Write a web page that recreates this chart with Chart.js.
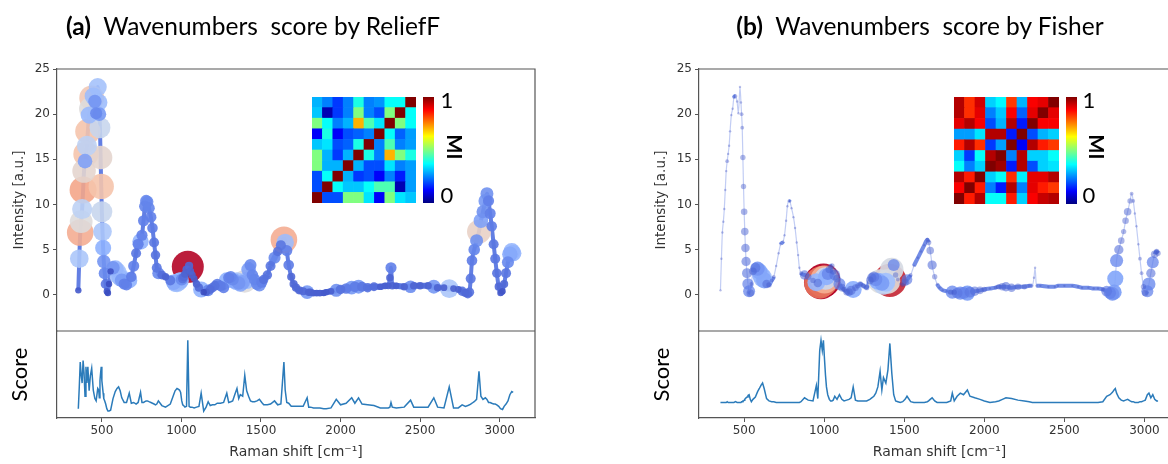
<!DOCTYPE html>
<html>
<head>
<meta charset="utf-8">
<script src="https://cdn.jsdelivr.net/npm/chart.js@4.4.0/dist/chart.umd.min.js"></script>
<style>
  html, body { margin: 0; padding: 0; background: #fff; overflow: hidden; }
  #wrap { position: relative; width: 1168px; height: 464px; overflow: hidden; }
  canvas { position: absolute; top: 0; }
  .title { position: absolute; top: 11px; transform: translateX(-50%); font-family: Lato, sans-serif;
           font-size: 24.5px; line-height: 1.2; color: #000; white-space: pre; }
  .title b { font-weight: 700; }
  .cbar { position: absolute; width: 11px;
          background: linear-gradient(to top, #000080 0%, #0000ff 12%, #00ffff 37%, #80ff80 50%, #ffff00 63%, #ff0000 88%, #800000 100%); }
  .lbl { position: absolute; transform: translate(-50%, -50%); font-family: Lato, sans-serif; font-size: 22px; color: #000; line-height: 1; }
  .mi { position: absolute; transform: translate(-50%, -50%) rotate(90deg); font-family: Lato, sans-serif; font-weight: 700; font-size: 20px; color: #000; line-height: 1; }
</style>
</head>
<body>
<div id="wrap">
  <canvas id="chartA" width="560" height="464" style="left:0px"></canvas>
  <canvas id="chartB" width="600" height="464" style="left:642px"></canvas>

  <canvas id="miA" width="104" height="106" style="left:312px; top:97px"></canvas>
  <div class="cbar" style="left:423px; top:97px; height:106px"></div>
  <div class="lbl" style="left:447px; top:100px">1</div>
  <div class="lbl" style="left:447px; top:195px">0</div>
  <div class="mi" style="left:455px; top:147px">MI</div>

  <canvas id="miB" width="105" height="107" style="left:954px; top:97px"></canvas>
  <div class="cbar" style="left:1066px; top:97px; height:107px"></div>
  <div class="lbl" style="left:1089px; top:100px">1</div>
  <div class="lbl" style="left:1089px; top:195px">0</div>
  <div class="mi" style="left:1097px; top:147px">MI</div>

  <div class="title" style="left:253px"><b>(a)</b>  Wavenumbers  score by ReliefF</div>
  <div class="title" style="left:920px"><b>(b)</b>  Wavenumbers  score by Fisher</div>
</div>

<script>
// Raman shift grid (cm-1) shared by the spectrum and both score curves
const wavenumbers = [
  352, 358, 364, 370, 376, 382, 388, 394, 400, 406,
  412, 420, 428, 436, 446, 456, 464, 474, 480, 484,
  488, 492, 496, 500, 504, 508, 512, 518, 524, 531,
  538, 545, 555, 570, 584, 595, 605, 615, 625, 640,
  655, 672, 685, 700, 715, 728, 743, 752, 762, 770,
  778, 786, 796, 808, 818, 828, 837, 845, 855, 877,
  900, 930, 951, 960, 972, 980, 988, 995, 1002, 1008,
  1014, 1022, 1032, 1040, 1048, 1056, 1066, 1080, 1095, 1110,
  1124, 1140, 1155, 1168, 1181, 1195, 1210, 1225, 1245, 1265,
  1285, 1297, 1310, 1322, 1335, 1349, 1360, 1370, 1385, 1398,
  1410, 1422, 1434, 1446, 1460, 1475, 1490, 1505, 1517, 1540,
  1560, 1585, 1605, 1625, 1644, 1652, 1662, 1674, 1690, 1705,
  1720, 1740, 1765, 1790, 1800, 1812, 1830, 1850, 1870, 1894,
  1910, 1940, 1973, 2000, 2035, 2070, 2090, 2113, 2135, 2170,
  2210, 2250, 2280, 2300, 2310, 2317, 2325, 2350, 2400, 2440,
  2460, 2500, 2550, 2586, 2610, 2650, 2683, 2710, 2740, 2764,
  2785, 2800, 2810, 2818, 2826, 2840, 2855, 2870, 2882, 2895,
  2910, 2920, 2930, 2940, 2950, 2962, 2972, 2982, 2994, 3005,
  3018, 3028, 3040, 3052, 3064, 3076, 3085
];

// spectrum intensity [a.u.]
const intensity = [
  0.5, 4.0, 6.9, 8.1, 9.5, 11.6, 13.7, 14.8, 15.6, 16.5,
  18.1, 19.9, 20.6, 21.8, 22.0, 21.4, 20.1, 23.0, 21.3, 20.0,
  18.5, 15.2, 12.0, 9.2, 7.0, 5.2, 3.7, 2.4, 1.2, 0.4,
  0.2, 1.2, 2.6, 3.0, 2.9, 2.6, 2.2, 1.9, 1.6, 1.2,
  1.1, 1.6, 2.0, 3.2, 4.6, 5.6, 5.9, 6.6, 8.2, 9.8,
  10.4, 10.3, 9.6, 8.6, 7.4, 5.8, 4.4, 3.0, 2.4, 2.2,
  2.0, 1.6, 1.4, 1.3, 1.3, 1.4, 1.5, 1.6, 1.7, 1.8,
  2.0, 2.3, 2.8, 3.1, 3.2, 2.6, 2.2, 1.8, 1.2, 0.8,
  0.6, 0.3, 0.3, 0.5, 0.6, 0.8, 1.0, 1.2, 1.0, 0.8,
  1.6, 1.9, 2.0, 1.7, 1.5, 1.5, 1.3, 1.2, 1.4, 1.5,
  1.6, 2.8, 3.3, 2.2, 1.7, 1.2, 1.1, 1.4, 1.7, 2.2,
  3.2, 4.1, 4.8, 5.5, 6.1, 5.8, 4.9, 3.3, 2.0, 1.2,
  0.8, 0.5, 0.4, 0.3, 0.3, 0.3, 0.2, 0.2, 0.2, 0.2,
  0.3, 0.4, 0.5, 0.6, 0.7, 0.8, 0.9, 0.9, 0.9, 0.8,
  0.9, 0.9, 1.0, 1.0, 1.9, 3.0, 1.0, 1.0, 0.9, 0.9,
  1.0, 1.0, 1.0, 0.9, 0.8, 0.8, 0.7, 0.7, 0.6, 0.4,
  0.2, 0.1, 0.3, 1.8, 3.8, 5.0, 6.0, 7.0, 8.2, 9.2,
  10.4, 11.2, 10.4, 9.0, 7.6, 5.6, 4.0, 2.4, 0.9, 0.2,
  0.4, 1.2, 2.4, 3.6, 4.5, 4.8, 4.6
];

// ReliefF score (relative)
const reliefScore = [
  0.12, 0.40, 0.72, 0.55, 0.45, 0.74, 0.58, 0.28, 0.66, 0.45,
  0.66, 0.35, 0.55, 0.64, 0.36, 0.25, 0.22, 0.38, 0.36, 0.26,
  0.48, 0.58, 0.66, 0.48, 0.40, 0.32, 0.25, 0.22, 0.18, 0.12,
  0.09, 0.09, 0.10, 0.25, 0.34, 0.38, 0.40, 0.35, 0.26, 0.20,
  0.20, 0.32, 0.19, 0.20, 0.18, 0.20, 0.33, 0.20, 0.20, 0.21,
  0.22, 0.22, 0.21, 0.20, 0.19, 0.18, 0.17, 0.18, 0.22, 0.16,
  0.14, 0.18, 0.30, 0.35, 0.38, 0.37, 0.36, 0.33, 0.22, 0.17,
  0.16, 0.14, 0.15, 1.00, 0.15, 0.14, 0.14, 0.13, 0.14, 0.15,
  0.32, 0.09, 0.14, 0.21, 0.16, 0.17, 0.17, 0.19, 0.19, 0.20,
  0.32, 0.20, 0.21, 0.22, 0.30, 0.38, 0.25, 0.30, 0.28, 0.55,
  0.35, 0.28, 0.22, 0.21, 0.21, 0.22, 0.24, 0.20, 0.17, 0.17,
  0.18, 0.22, 0.17, 0.18, 0.72, 0.36, 0.20, 0.19, 0.15, 0.15,
  0.15, 0.15, 0.15, 0.26, 0.14, 0.14, 0.13, 0.13, 0.13, 0.12,
  0.12, 0.13, 0.24, 0.17, 0.19, 0.26, 0.19, 0.26, 0.18, 0.17,
  0.16, 0.13, 0.13, 0.13, 0.14, 0.20, 0.14, 0.13, 0.14, 0.23,
  0.14, 0.14, 0.14, 0.26, 0.14, 0.13, 0.40, 0.13, 0.13, 0.17,
  0.15, 0.16, 0.17, 0.18, 0.19, 0.21, 0.24, 0.60, 0.28, 0.24,
  0.26, 0.24, 0.20, 0.20, 0.19, 0.18, 0.18, 0.17, 0.15, 0.12,
  0.11, 0.15, 0.18, 0.22, 0.30, 0.34, 0.33
];

// Fisher score (relative)
const fisherScore = [
  0.20, 0.20, 0.20, 0.20, 0.20, 0.20, 0.20, 0.21, 0.20, 0.20,
  0.20, 0.20, 0.20, 0.20, 0.21, 0.20, 0.20, 0.20, 0.20, 0.21,
  0.21, 0.22, 0.22, 0.23, 0.24, 0.25, 0.26, 0.27, 0.29, 0.30,
  0.24, 0.21, 0.24, 0.27, 0.34, 0.38, 0.42, 0.45, 0.38, 0.25,
  0.22, 0.21, 0.21, 0.20, 0.20, 0.20, 0.20, 0.20, 0.20, 0.20,
  0.20, 0.20, 0.20, 0.20, 0.20, 0.20, 0.20, 0.20, 0.21, 0.26,
  0.23, 0.22, 0.42, 0.25, 0.87, 1.00, 0.87, 1.00, 0.75, 0.55,
  0.40, 0.30, 0.24, 0.22, 0.22, 0.23, 0.28, 0.24, 0.30, 0.24,
  0.22, 0.23, 0.24, 0.26, 0.40, 0.23, 0.22, 0.22, 0.22, 0.22,
  0.24, 0.26, 0.28, 0.32, 0.40, 0.60, 0.36, 0.52, 0.45, 0.62,
  0.96, 0.58, 0.30, 0.22, 0.21, 0.20, 0.21, 0.24, 0.28, 0.21,
  0.20, 0.20, 0.20, 0.20, 0.21, 0.22, 0.24, 0.26, 0.22, 0.20,
  0.20, 0.20, 0.20, 0.22, 0.32, 0.22, 0.28, 0.32, 0.30, 0.36,
  0.28, 0.26, 0.24, 0.22, 0.20, 0.21, 0.22, 0.24, 0.26, 0.25,
  0.23, 0.22, 0.21, 0.20, 0.20, 0.20, 0.20, 0.20, 0.20, 0.20,
  0.20, 0.20, 0.20, 0.20, 0.20, 0.20, 0.20, 0.20, 0.21, 0.28,
  0.30, 0.33, 0.36, 0.38, 0.32, 0.26, 0.23, 0.22, 0.23, 0.24,
  0.22, 0.21, 0.21, 0.20, 0.20, 0.20, 0.21, 0.21, 0.22, 0.23,
  0.30, 0.32, 0.26, 0.30, 0.24, 0.22, 0.22
];

const xTicks = [500, 1000, 1500, 2000, 2500, 3000];
const yTicks = [0, 5, 10, 15, 20, 25];

// mutual information between the 10 selected wavenumbers, rows listed top to bottom
const miRelief = [
  [0.30, 0.25, 0.18, 0.25, 0.40, 0.25, 0.27, 0.38, 0.38, 1.00],
  [0.32, 0.05, 0.18, 0.25, 0.50, 0.25, 0.20, 0.50, 1.00, 0.38],
  [0.50, 0.38, 0.25, 0.30, 0.70, 0.45, 0.35, 1.00, 0.50, 0.38],
  [0.12, 0.40, 0.12, 0.20, 0.22, 0.25, 1.00, 0.38, 0.22, 0.28],
  [0.32, 0.35, 0.20, 0.22, 0.40, 1.00, 0.25, 0.45, 0.25, 0.28],
  [0.50, 0.30, 0.18, 0.30, 1.00, 0.40, 0.25, 0.70, 0.50, 0.40],
  [0.50, 0.30, 0.30, 1.00, 0.30, 0.20, 0.20, 0.35, 0.25, 0.28],
  [0.20, 0.38, 1.00, 0.30, 0.18, 0.20, 0.12, 0.25, 0.15, 0.28],
  [0.20, 1.00, 0.38, 0.32, 0.32, 0.38, 0.45, 0.45, 0.05, 0.28],
  [1.00, 0.20, 0.20, 0.50, 0.50, 0.35, 0.12, 0.50, 0.35, 0.32]
];
const miFisher = [
  [0.95, 0.83, 0.92, 0.33, 0.37, 0.82, 0.30, 0.88, 0.90, 1.00],
  [0.95, 0.83, 0.90, 0.25, 0.32, 0.88, 0.22, 0.90, 1.00, 0.90],
  [0.90, 0.95, 0.88, 0.20, 0.30, 0.95, 0.15, 1.00, 0.88, 0.88],
  [0.28, 0.28, 0.35, 0.95, 0.95, 0.15, 1.00, 0.20, 0.30, 0.33],
  [0.85, 0.95, 0.83, 0.18, 0.28, 1.00, 0.12, 0.95, 0.85, 0.82],
  [0.33, 0.18, 0.38, 0.95, 1.00, 0.25, 0.95, 0.33, 0.33, 0.38],
  [0.38, 0.25, 0.33, 1.00, 0.97, 0.15, 0.95, 0.20, 0.33, 0.35],
  [0.95, 0.85, 1.00, 0.33, 0.38, 0.83, 0.36, 0.90, 0.90, 0.95],
  [0.88, 1.00, 0.85, 0.25, 0.15, 0.95, 0.25, 0.90, 0.85, 0.82],
  [1.00, 0.85, 0.95, 0.38, 0.38, 0.85, 0.33, 0.88, 0.93, 0.95]
];

Chart.defaults.font.family = "'DejaVu Sans', sans-serif";
Chart.defaults.color = '#333';

// matplotlib coolwarm, sampled
const coolwarmStops = [
  [0.0, [59, 76, 192]], [0.125, [98, 130, 234]], [0.25, [141, 176, 254]],
  [0.375, [184, 208, 249]], [0.5, [221, 221, 221]], [0.625, [245, 196, 173]],
  [0.75, [244, 154, 123]], [0.875, [222, 96, 77]], [1.0, [180, 4, 38]]
];
function coolwarm(t, a) {
  t = Math.max(0, Math.min(1, t));
  let i = 0;
  while (i < coolwarmStops.length - 2 && t > coolwarmStops[i + 1][0]) i++;
  const [t0, c0] = coolwarmStops[i], [t1, c1] = coolwarmStops[i + 1];
  const f = (t - t0) / (t1 - t0);
  const c = c0.map((v, k) => Math.round(v + (c1[k] - v) * f));
  return `rgba(${c[0]},${c[1]},${c[2]},${a})`;
}
function jet(v) {
  const c = x => Math.round(255 * Math.max(0, Math.min(1, x)));
  return `rgb(${c(1.5 - Math.abs(4 * v - 3))},${c(1.5 - Math.abs(4 * v - 2))},${c(1.5 - Math.abs(4 * v - 1))})`;
}

const framePlugin = {
  id: 'frame',
  afterDraw(chart) {
    const { ctx, chartArea: a, scales } = chart;
    ctx.save();
    ctx.strokeStyle = '#555';
    ctx.lineWidth = 1.2;
    ctx.beginPath();
    ctx.moveTo(a.left, a.top);
    ctx.lineTo(a.right, a.top);
    ctx.lineTo(a.right, a.bottom);
    ctx.moveTo(a.left, scales.y.bottom);
    ctx.lineTo(a.right, scales.y.bottom);
    ctx.stroke();
    ctx.restore();
  }
};

function drawPanel(canvasId, score, cfg) {
  const norm = s => Math.max(0, Math.min(1, (s - cfg.lo) / (1 - cfg.lo)));
  // biggest markers first so the small ones stay visible on top
  const points = wavenumbers.map((x, i) => ({ x, y: intensity[i], s: score[i] }))
    .sort((a, b) => b.s - a.s);
  const isSteep = c => Math.abs(c.p1.y - c.p0.y) > 2.5 * Math.abs(c.p1.x - c.p0.x);

  new Chart(document.getElementById(canvasId), {
    type: 'scatter',
    data: {
      datasets: [
        {
          type: 'line',
          data: wavenumbers.map((x, i) => ({ x, y: intensity[i] })),
          yAxisID: 'y',
          borderColor: cfg.lineColor,
          borderWidth: cfg.lineWidth,
          pointRadius: 0,
          cubicInterpolationMode: 'monotone',
          order: 3,
          segment: {
            borderWidth: c => isSteep(c) ? cfg.steepWidth : cfg.lineWidth,
            borderColor: c => isSteep(c) ? cfg.steepColor : cfg.lineColor
          }
        },
        {
          type: 'scatter',
          data: points,
          yAxisID: 'y',
          pointRadius: c => c.raw ? Math.max(cfg.rmin, cfg.rmax * Math.sqrt(norm(c.raw.s))) : 0,
          pointBackgroundColor: c => c.raw ? coolwarm(norm(c.raw.s), cfg.alpha(norm(c.raw.s))) : 'transparent',
          pointBorderWidth: 0,
          order: 2
        },
        {
          type: 'line',
          data: wavenumbers.map((x, i) => ({ x, y: score[i] })),
          yAxisID: 'y2',
          borderColor: '#2b7bba',
          borderWidth: 1.5,
          pointRadius: 0,
          order: 1
        }
      ]
    },
    options: {
      responsive: false,
      animation: false,
      events: [],
      layout: { padding: { left: 0, right: cfg.padRight, top: 69, bottom: 0 } },
      plugins: { legend: { display: false }, tooltip: { enabled: false } },
      scales: {
        x: {
          type: 'linear', position: 'bottom', min: 218, max: 3222,
          afterBuildTicks: s => { s.ticks = xTicks.map(v => ({ value: v })); },
          afterFit: s => { s.height = 46; },
          ticks: { font: { size: 12 }, color: '#333', padding: 2, maxRotation: 0, callback: v => String(v) },
          grid: { display: true, drawOnChartArea: false, drawTicks: true, tickLength: 4, color: '#555' },
          border: { display: true, color: '#555', width: 1.2 },
          title: { display: true, text: 'Raman shift [cm\u207B\u00B9]', font: { size: 14 }, color: '#333', padding: { top: 0, bottom: 3 } }
        },
        y: {
          type: 'linear', position: 'left', stack: 'v', stackWeight: 262, weight: 2,
          min: -4, max: 25,
          afterBuildTicks: s => { s.ticks = yTicks.map(v => ({ value: v })); },
          afterFit: s => { s.width = 57; },
          ticks: { font: { size: 12 }, color: '#333', padding: 3, callback: v => String(v) },
          grid: { display: true, drawOnChartArea: false, drawTicks: true, tickLength: 4, color: '#555' },
          border: { display: true, color: '#555', width: 1.2 },
          title: { display: true, text: 'Intensity [a.u.]', font: { size: 13.5 }, color: '#333', padding: { top: 11, bottom: 0 } }
        },
        y2: {
          type: 'linear', position: 'left', stack: 'v', stackWeight: 87, weight: 1,
          min: 0, max: 1.12,
          afterFit: s => { s.width = 57; },
          ticks: { display: false },
          grid: { display: false },
          border: { display: true, color: '#555', width: 1.2 },
          title: { display: true, text: 'Score', font: { family: 'Lato, sans-serif', size: 22 }, color: '#000', padding: { top: 7, bottom: 0 } }
        }
      }
    },
    plugins: [framePlugin]
  });
}

drawPanel('chartA', reliefScore, {
  lo: 0.09, rmax: 16, rmin: 3.2, padRight: 25,
  alpha: t => 0.9,
  lineColor: 'rgba(72,104,222,0.9)', lineWidth: 6,
  steepColor: 'rgba(72,104,222,0.85)', steepWidth: 4
});
drawPanel('chartB', fisherScore, {
  lo: 0.2, rmax: 17, rmin: 1.2, padRight: 62,
  alpha: t => Math.min(0.92, 0.35 + 3 * t),
  lineColor: 'rgba(80,112,224,0.8)', lineWidth: 4,
  steepColor: 'rgba(80,112,224,0.35)', steepWidth: 1.2
});

function drawHeatmap(canvasId, matrix) {
  const rowsBottomUp = matrix.slice().reverse();
  new Chart(document.getElementById(canvasId), {
    type: 'bar',
    data: {
      labels: matrix[0].map((_, j) => j),
      datasets: rowsBottomUp.map(row => ({
        data: row.map(() => 1),
        backgroundColor: row.map(jet),
        borderWidth: 0,
        barPercentage: 1,
        categoryPercentage: 1
      }))
    },
    options: {
      responsive: false,
      animation: false,
      events: [],
      layout: { padding: 0 },
      plugins: { legend: { display: false }, tooltip: { enabled: false } },
      scales: {
        x: { display: false, stacked: true },
        y: { display: false, stacked: true, min: 0, max: matrix.length }
      }
    }
  });
}
drawHeatmap('miA', miRelief);
drawHeatmap('miB', miFisher);
</script>
</body>
</html>
